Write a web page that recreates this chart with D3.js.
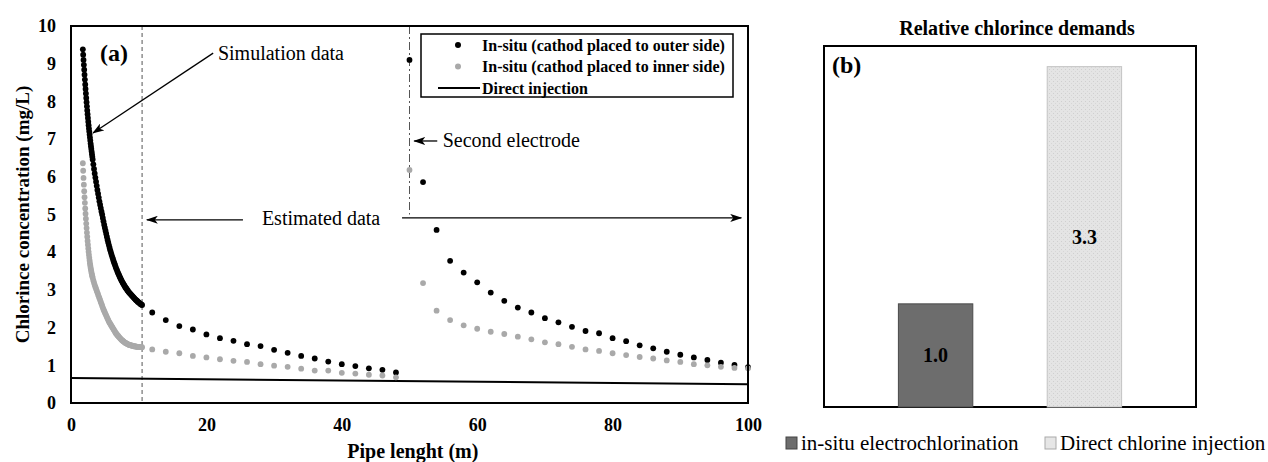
<!DOCTYPE html>
<html>
<head>
<meta charset="utf-8">
<title>Chlorince concentration and relative chlorince demands</title>
<script src="https://d3js.org/d3.v7.min.js"></script>
<style>
  body { margin: 0; background: #fff; }
  svg text { font-family: "Liberation Serif", "Times New Roman", serif; fill: #000; }
</style>
</head>
<body>
<svg id="chart" width="1268" height="462"></svg>
<script>
// ---- panel (a): chlorine along the pipe ----
var simX = [1.75, 1.80, 1.85, 1.90, 1.95, 2.00, 2.05, 2.10, 2.15, 2.20,
  2.25, 2.30, 2.35, 2.40, 2.45, 2.50, 2.55, 2.60, 2.65, 2.70,
  2.75, 2.80, 2.85, 2.90, 2.95, 3.00, 3.05, 3.10, 3.15, 3.20,
  3.3, 3.4, 3.5, 3.6, 3.7, 3.8, 3.9, 4.0, 4.1, 4.2,
  4.3, 4.4, 4.5, 4.6, 4.7, 4.8, 4.9, 5.0, 5.1, 5.2,
  5.3, 5.4, 5.5, 5.6, 5.7, 5.8, 5.9, 6.0, 6.1, 6.2,
  6.3, 6.4, 6.5, 6.6, 6.7, 6.8, 6.9, 7.0, 7.1, 7.2,
  7.3, 7.4, 7.5, 7.6, 7.7, 7.8, 7.9, 8.0, 8.1, 8.2,
  8.3, 8.4, 8.5, 8.6, 8.7, 8.8, 8.9, 9.0, 9.1, 9.2,
  9.3, 9.4, 9.5, 9.6, 9.7, 9.8, 9.9, 10.0, 10.1, 10.2,
  10.3, 10.4, 10.5];
var simOuter = [9.38, 9.24, 9.10, 8.97, 8.84, 8.71, 8.58, 8.45, 8.33, 8.21,
  8.09, 7.98, 7.87, 7.76, 7.66, 7.56, 7.46, 7.37, 7.28, 7.20,
  7.12, 7.04, 6.96, 6.88, 6.81, 6.74, 6.67, 6.60, 6.53, 6.46,
  6.33, 6.21, 6.09, 5.98, 5.87, 5.76, 5.65, 5.55, 5.45, 5.35,
  5.26, 5.17, 5.08, 5.00, 4.91, 4.82, 4.73, 4.65, 4.57, 4.49,
  4.41, 4.33, 4.26, 4.19, 4.12, 4.05, 3.99, 3.93, 3.87, 3.82,
  3.76, 3.71, 3.66, 3.61, 3.56, 3.52, 3.47, 3.43, 3.39, 3.35,
  3.31, 3.27, 3.24, 3.20, 3.17, 3.14, 3.11, 3.08, 3.05, 3.03,
  3.00, 2.98, 2.95, 2.93, 2.91, 2.89, 2.87, 2.85, 2.83, 2.81,
  2.79, 2.77, 2.75, 2.73, 2.72, 2.70, 2.68, 2.67, 2.65, 2.64,
  2.62, 2.61, 2.60];
var simInner = [6.36, 6.16, 5.97, 5.79, 5.62, 5.46, 5.31, 5.16, 5.02, 4.89,
  4.76, 4.64, 4.52, 4.41, 4.30, 4.20, 4.10, 4.01, 3.93, 3.85,
  3.78, 3.71, 3.65, 3.59, 3.54, 3.49, 3.44, 3.40, 3.36, 3.32,
  3.25, 3.19, 3.13, 3.08, 3.03, 2.98, 2.93, 2.88, 2.83, 2.78,
  2.73, 2.68, 2.63, 2.58, 2.53, 2.48, 2.44, 2.40, 2.36, 2.32,
  2.28, 2.24, 2.20, 2.16, 2.13, 2.10, 2.07, 2.04, 2.01, 1.98,
  1.95, 1.92, 1.89, 1.86, 1.84, 1.81, 1.79, 1.77, 1.75, 1.73,
  1.71, 1.69, 1.67, 1.66, 1.64, 1.63, 1.61, 1.60, 1.59, 1.58,
  1.57, 1.56, 1.55, 1.54, 1.54, 1.53, 1.53, 1.52, 1.52, 1.51,
  1.51, 1.50, 1.50, 1.50, 1.49, 1.49, 1.49, 1.49, 1.48, 1.48,
  1.48, 1.48, 1.48];

var estX = [12, 14, 16, 18, 20, 22, 24, 26, 28, 30, 32, 34, 36, 38, 40, 42, 44, 46, 48,
  50, 52, 54, 56, 58, 60, 62, 64, 66, 68, 70, 72, 74, 76, 78, 80,
  82, 84, 86, 88, 90, 92, 94, 96, 98, 100];
var estOuter = [2.40, 2.20, 2.04, 1.95, 1.82, 1.72, 1.65, 1.56, 1.51, 1.41, 1.33, 1.25, 1.18, 1.10, 1.03, 0.98, 0.92, 0.88, 0.81,
  9.10, 5.86, 4.59, 3.77, 3.46, 3.20, 2.93, 2.71, 2.53, 2.40, 2.25, 2.14, 2.02, 1.91, 1.85, 1.72,
  1.64, 1.53, 1.45, 1.36, 1.28, 1.21, 1.14, 1.07, 1.01, 0.95];
var estInner = [1.42, 1.36, 1.32, 1.25, 1.21, 1.16, 1.12, 1.09, 1.03, 0.99, 0.96, 0.91, 0.86, 0.86, 0.80, 0.78, 0.75, 0.73, 0.68,
  6.18, 3.18, 2.45, 2.20, 2.06, 1.97, 1.89, 1.83, 1.76, 1.69, 1.61, 1.56, 1.49, 1.42, 1.38, 1.32,
  1.27, 1.22, 1.18, 1.13, 1.09, 1.03, 1.00, 0.96, 0.93, 0.92];

var directX = [0, 100];
var directY = [0.66, 0.50];

var xTicks = [0, 20, 40, 60, 80, 100];
var yTicks = [0, 1, 2, 3, 4, 5, 6, 7, 8, 9, 10];
var legendA = ["In-situ (cathod placed to outer side)", "In-situ (cathod placed to inner side)", "Direct injection"];

// ---- panel (b): relative demands ----
var barCats = ["in-situ electrochlorination", "Direct chlorine injection"];
var barValues = [1.0, 3.3];
var barLabels = ["1.0", "3.3"];

var outerColor = "#000000", innerColor = "#a9a9a9";

var svg = d3.select("#chart");

var defs = svg.append("defs");
defs.append("marker")
  .attr("id", "arrow")
  .attr("markerUnits", "userSpaceOnUse")
  .attr("viewBox", "0 0 12 8")
  .attr("refX", 11).attr("refY", 4)
  .attr("markerWidth", 12).attr("markerHeight", 8)
  .attr("orient", "auto")
  .append("path")
  .attr("d", "M0,0 L12,4 L0,8 L3,4 Z")
  .attr("fill", "#000");

var dots = defs.append("pattern")
  .attr("id", "speckle")
  .attr("patternUnits", "userSpaceOnUse")
  .attr("width", 4).attr("height", 4);
dots.append("rect").attr("width", 4).attr("height", 4).attr("fill", "#e4e4e4");
dots.append("rect").attr("x", 1).attr("y", 1).attr("width", 1).attr("height", 1).attr("fill", "#cfcfcf");
dots.append("rect").attr("x", 3).attr("y", 3).attr("width", 1).attr("height", 1).attr("fill", "#d6d6d6");

// ================= panel (a) =================
var x = d3.scaleLinear().domain([0, 100]).range([71, 748]);
var y = d3.scaleLinear().domain([0, 10]).range([403, 26]);

var gA = svg.append("g");

// axes (no tick marks, labels only)
var yAxis = gA.append("g")
  .attr("transform", "translate(71,0)")
  .call(d3.axisLeft(y).tickValues(yTicks).tickSize(0).tickPadding(15));
var xAxis = gA.append("g")
  .attr("transform", "translate(0,403)")
  .call(d3.axisBottom(x).tickValues(xTicks).tickSize(0).tickPadding(15));
[yAxis, xAxis].forEach(function(ax) {
  ax.select(".domain").remove();
  ax.selectAll("text")
    .style("font-family", "'Liberation Serif', 'Times New Roman', serif")
    .style("font-size", "18px")
    .style("font-weight", "bold")
    .attr("fill", "#000");
});

// reference lines
gA.append("line")
  .attr("x1", x(10.5)).attr("x2", x(10.5))
  .attr("y1", y(10)).attr("y2", y(0))
  .attr("stroke", "#555").attr("stroke-width", 1)
  .attr("stroke-dasharray", "4,3");
gA.append("line")
  .attr("x1", x(50)).attr("x2", x(50))
  .attr("y1", y(10)).attr("y2", y(5.0))
  .attr("stroke", "#555").attr("stroke-width", 1)
  .attr("stroke-dasharray", "8,3,2,3");

// direct injection line
var direct = directX.map(function(d, i) { return [d, directY[i]]; });
gA.append("path")
  .datum(direct)
  .attr("fill", "none")
  .attr("stroke", "#000")
  .attr("stroke-width", 2)
  .attr("d", d3.line().x(function(d) { return x(d[0]); }).y(function(d) { return y(d[1]); }));

// points
function pairs(xs, ys) {
  return xs.map(function(d, i) { return { x: d, v: ys[i] }; });
}
var seriesA = [
  { pts: pairs(simX, simOuter).concat(pairs(estX, estOuter)), color: outerColor },
  { pts: pairs(simX, simInner).concat(pairs(estX, estInner)), color: innerColor }
];
seriesA.forEach(function(s) {
  gA.append("g").selectAll("circle")
    .data(s.pts)
    .enter().append("circle")
    .attr("cx", function(d) { return x(d.x); })
    .attr("cy", function(d) { return y(d.v); })
    .attr("r", 2.9)
    .attr("fill", s.color);
});

// frame
gA.append("rect")
  .attr("x", x(0)).attr("y", y(10))
  .attr("width", x(100) - x(0)).attr("height", y(0) - y(10))
  .attr("fill", "none").attr("stroke", "#000").attr("stroke-width", 2);

// annotations
function arrow(x1, y1, x2, y2) {
  gA.append("line")
    .attr("x1", x(x1)).attr("y1", y(y1))
    .attr("x2", x(x2)).attr("y2", y(y2))
    .attr("stroke", "#000").attr("stroke-width", 1.3)
    .attr("marker-end", "url(#arrow)");
}
function note(tx, ty, label) {
  gA.append("text")
    .attr("x", x(tx)).attr("y", y(ty))
    .attr("dy", "0.32em")
    .style("font-size", "20px")
    .text(label);
}
arrow(21.0, 9.28, 3.25, 7.16);
note(21.7, 9.28, "Simulation data");
arrow(25.4, 4.86, 11.2, 4.86);
arrow(48.9, 4.91, 99.0, 4.91);
note(28.2, 4.88, "Estimated data");
arrow(54.1, 6.95, 50.7, 6.95);
note(54.9, 6.95, "Second electrode");

gA.append("text")
  .attr("x", x(4.3)).attr("y", y(9.3))
  .attr("dy", "0.35em")
  .style("font-size", "24px").style("font-weight", "bold")
  .text("(a)");

// axis titles
gA.append("text")
  .attr("transform", "translate(22," + y(5.0) + ") rotate(-90)")
  .attr("text-anchor", "middle")
  .attr("dy", "0.35em")
  .style("font-size", "19px").style("font-weight", "bold")
  .text("Chlorince concentration (mg/L)");
gA.append("text")
  .attr("x", x(50.5)).attr("y", 458)
  .attr("text-anchor", "middle")
  .style("font-size", "20px").style("font-weight", "bold")
  .text("Pipe lenght (m)");

// legend
var lg = gA.append("g").attr("transform", "translate(421,34)");
lg.append("rect").attr("width", 312).attr("height", 63)
  .attr("fill", "#fff").attr("stroke", "#000").attr("stroke-width", 1.5);
lg.append("circle").attr("cx", 37).attr("cy", 11).attr("r", 3).attr("fill", outerColor);
lg.append("circle").attr("cx", 37).attr("cy", 32.5).attr("r", 3).attr("fill", innerColor);
lg.append("line").attr("x1", 17).attr("x2", 59).attr("y1", 54).attr("y2", 54)
  .attr("stroke", "#000").attr("stroke-width", 2);
lg.selectAll("text.lab")
  .data(legendA)
  .enter().append("text")
  .attr("class", "lab")
  .attr("x", 61)
  .attr("y", function(d, i) { return 11 + i * 21.5; })
  .attr("dy", "0.35em")
  .style("font-size", "16px").style("font-weight", "bold")
  .text(function(d) { return d; });

// ================= panel (b) =================
var xb = d3.scaleBand().domain(barCats).range([824, 1196]).paddingInner(0.5).paddingOuter(0.5);
var yb = d3.scaleLinear().domain([0, 3.5]).range([407, 46]);
var barFill = ["#6d6d6d", "url(#speckle)"];
var barStroke = ["#4a4a4a", "#c4c4c4"];

var gB = svg.append("g");

gB.append("text")
  .attr("x", 1017).attr("y", 35)
  .attr("text-anchor", "middle")
  .style("font-size", "20px").style("font-weight", "bold")
  .text("Relative chlorince demands");

gB.append("rect")
  .attr("x", 824).attr("y", yb(3.5))
  .attr("width", 372).attr("height", yb(0) - yb(3.5))
  .attr("fill", "#fff").attr("stroke", "#000").attr("stroke-width", 2);

gB.selectAll("rect.bar")
  .data(barValues)
  .enter().append("rect")
  .attr("class", "bar")
  .attr("x", function(d, i) { return xb(barCats[i]); })
  .attr("y", function(d) { return yb(d); })
  .attr("width", xb.bandwidth())
  .attr("height", function(d) { return yb(0) - yb(d); })
  .attr("fill", function(d, i) { return barFill[i]; })
  .attr("stroke", function(d, i) { return barStroke[i]; })
  .attr("stroke-width", 1);

gB.selectAll("text.val")
  .data(barValues)
  .enter().append("text")
  .attr("class", "val")
  .attr("x", function(d, i) { return xb(barCats[i]) + xb.bandwidth() / 2; })
  .attr("y", function(d) { return yb(d / 2); })
  .attr("text-anchor", "middle")
  .attr("dy", "0.35em")
  .style("font-size", "20px").style("font-weight", "bold")
  .text(function(d, i) { return barLabels[i]; });

gB.append("text")
  .attr("x", 832).attr("y", 65)
  .attr("dy", "0.35em")
  .style("font-size", "24px").style("font-weight", "bold")
  .text("(b)");

// bottom legend
var legX = [786, 1045];
var leg = gB.selectAll("g.leg")
  .data(barCats)
  .enter().append("g")
  .attr("class", "leg")
  .attr("transform", function(d, i) { return "translate(" + legX[i] + ",437)"; });
leg.append("rect")
  .attr("width", 11).attr("height", 12)
  .attr("fill", function(d, i) { return i === 0 ? "#6d6d6d" : "#e6e6e6"; })
  .attr("stroke", function(d, i) { return i === 0 ? "#444" : "#aaa"; })
  .attr("stroke-width", 1);
leg.append("text")
  .attr("x", 15).attr("y", 13)
  .style("font-size", "21px")
  .text(function(d) { return d; });
</script>
</body>
</html>
